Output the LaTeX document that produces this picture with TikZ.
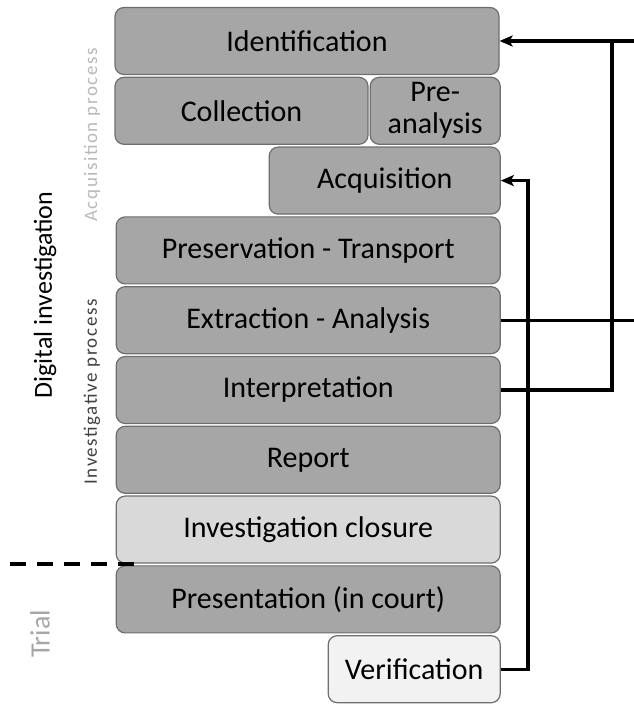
\documentclass[tikz,border=0pt]{standalone}
\usepackage{fontspec}
\setmainfont{Carlito}
\usepackage{tikz}
\usetikzlibrary{positioning,arrows.meta}

\definecolor{phasegray}{HTML}{A6A6A6}
\definecolor{closegray}{HTML}{D9D9D9}
\definecolor{verifgray}{HTML}{F2F2F2}
\definecolor{rimgray}{HTML}{6E6E6E}

\begin{document}
\begin{tikzpicture}[
			phase/.style={rectangle, rounded corners=9pt, draw=rimgray, fill=phasegray, line width=1.2pt, minimum height=67pt, inner sep=0pt, align=center, font=\fontsize{30}{32}\selectfont},
			closing/.style={phase, fill=closegray},
			checking/.style={phase, fill=verifgray},
			edge/.style={line width=3.3pt, -{Stealth[length=13pt, width=11pt, inset=3pt]}},
			line/.style={line width=3.3pt},
			side/.style={rotate=90, inner sep=0pt}
		]
		\useasboundingbox (0,0) rectangle (634pt,704pt);
		%\node[phase] (q0) at (0,0) {};
		\node[phase, minimum width=384pt] (id) at (307pt,663pt) {Identification};
		\node[phase, minimum width=253pt] (coll) [below=1.6pt of id.south west, anchor=north west] {Collection};
		\node[phase, minimum width=130pt] (pre) [right=1pt of coll] {Pre-\\analysis};
		\node[phase, minimum width=231pt] (acq) [below=1.6pt of pre.south east, anchor=north east] {Acquisition};
		\node[phase, minimum width=384pt] (pres) [below=1.6pt of acq.south east, anchor=north east] {Preservation - Transport};
		\node[phase, minimum width=384pt] (ext) [below=1.6pt of pres] {Extraction - Analysis};
		\node[phase, minimum width=384pt] (interp) [below=1.6pt of ext] {Interpretation};
		\node[phase, minimum width=384pt] (rep) [below=1.6pt of interp] {Report};
		\node[closing, minimum width=384pt] (clos) [below=1.6pt of rep] {Investigation closure};
		\node[phase, minimum width=384pt] (court) [below=1.6pt of clos] {Presentation (in court)};
		\node[checking, minimum width=172pt] (verif) [below=1.6pt of court.south east, anchor=north east] {Verification};

		\node[side, font=\fontsize{26}{30}\selectfont] (dig) at (45pt,409pt) {Digital investigation};
		\node[side, text=gray!55, font=\fontsize{19}{22}\selectfont\addfontfeatures{LetterSpace=8}] (acqproc) at (92pt,569pt) {Acquisition process};
		\node[side, text=black!75, font=\fontsize{19}{22}\selectfont\addfontfeatures{LetterSpace=8}] (invproc) at (92pt,312pt) {Investigative process};
		\node[side, text=phasegray, font=\fontsize{28}{30}\selectfont] (trial) at (40pt,70pt) {Trial};

		\coordinate (rim) at (634pt,0);
		\coordinate (outer) at (612pt,0);
		\coordinate (inner) at (528pt,0);
		\coordinate (sepl) at (10pt,140pt);
		\coordinate (sepr) at (136pt,140pt);

		\draw[edge] (id.east -| rim) -- (id.east);
		\draw[line] (ext.east) -- (ext.east -| rim);
		\draw[line] (interp.east) -| (outer |- id.east);
		\draw[edge] (verif.east) -| (inner |- acq.east) -- (acq.east);
		\draw[line, dash pattern=on 16pt off 11pt] (sepl) -- (sepr);
		\end{tikzpicture}
\end{document}
